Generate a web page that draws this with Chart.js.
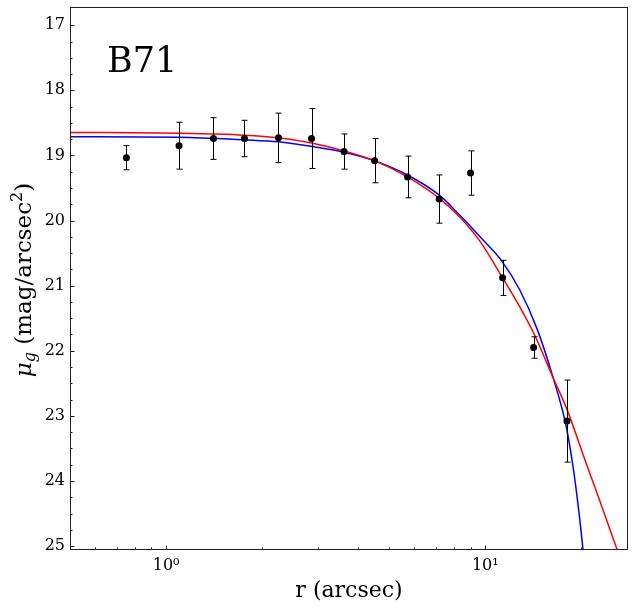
<!DOCTYPE html>
<html>
<head>
<meta charset="utf-8">
<script src="https://cdn.jsdelivr.net/npm/chart.js@4.4.1/dist/chart.umd.min.js"></script>
<style>
  html, body { margin: 0; padding: 0; background: #fff; }
  #wrap { width: 634px; height: 608px; }
</style>
</head>
<body>
<div id="wrap"><canvas id="profileChart" width="634" height="608"></canvas></div>
<script>
// Measured profile: radius (arcsec), surface brightness and its error
var radius = [0.751, 1.098, 1.407, 1.76, 2.25, 2.855, 3.61, 4.50, 5.71, 7.17, 8.99, 11.33, 14.17, 18.03];
var muG = [19.035, 18.85, 18.74, 18.74, 18.73, 18.74, 18.94, 19.08, 19.33, 19.67, 19.27, 20.88, 21.95, 23.08];
var muErr = [0.185, 0.36, 0.32, 0.28, 0.38, 0.46, 0.27, 0.34, 0.32, 0.37, 0.34, 0.27, 0.165, 0.63];

// Red fit
var redR = [0.5, 1.1, 1.76, 2.25, 2.85, 3.61, 4.49, 5.70, 7.18, 8.33, 9.63, 11.30, 12.84, 14.31, 16.33, 18.03, 20.27, 22.87, 25.91];
var redMu = [18.646, 18.66, 18.69, 18.73, 18.81, 18.93, 19.08, 19.33, 19.66, 19.95, 20.32, 20.87, 21.33, 21.77, 22.42, 22.90, 23.60, 24.31, 25.06];

// Blue fit
var blueR = [0.5, 1.1, 1.76, 2.25, 2.85, 3.61, 4.49, 5.70, 7.18, 8.33, 9.63, 11.30, 12.84, 14.52, 16.33, 17.89, 18.86, 19.70, 20.25];
var blueMu = [18.713, 18.72, 18.76, 18.79, 18.86, 18.95, 19.08, 19.30, 19.61, 19.92, 20.25, 20.63, 21.07, 21.66, 22.42, 23.14, 23.80, 24.52, 25.06];

var xTicks = [1, 10];
var xTickLabels = ["10\u2070", "10\u00b9"];
var yTicks = [17, 18, 19, 20, 21, 22, 23, 24, 25];

var serif = "'DejaVu Serif', 'Liberation Serif', serif";

function toXY(xs, ys) {
    return xs.map(function (x, i) { return { x: x, y: ys[i] }; });
}

// error bars, frame, inward ticks and the hand-set texts
var decorPlugin = {
    id: "decor",
    afterDatasetsDraw: function (chart) {
        var ctx = chart.ctx, a = chart.chartArea;
        var xs = chart.scales.x, ys = chart.scales.y;
        ctx.save();

        // error bars
        ctx.strokeStyle = "#000";
        ctx.lineWidth = 1;
        ctx.beginPath();
        for (var i = 0; i < radius.length; i++) {
            var px = Math.round(xs.getPixelForValue(radius[i])) + 0.5;
            var top = ys.getPixelForValue(muG[i] - muErr[i]);
            var bot = ys.getPixelForValue(muG[i] + muErr[i]);
            ctx.moveTo(px, top); ctx.lineTo(px, bot);
            ctx.moveTo(px - 3, top); ctx.lineTo(px + 3, top);
            ctx.moveTo(px - 3, bot); ctx.lineTo(px + 3, bot);
        }
        ctx.stroke();

        // frame
        ctx.strokeStyle = "#222";
        ctx.lineWidth = 1;
        ctx.strokeRect(a.left + 0.5, a.top + 0.5, a.right - a.left - 1, a.bottom - a.top - 1);

        // ticks pointing in
        ctx.beginPath();
        yTicks.forEach(function (v) {
            var y = Math.round(ys.getPixelForValue(v)) + 0.5;
            ctx.moveTo(a.left, y); ctx.lineTo(a.left + 4.5, y);
        });
        for (var m = 17; m < 25.1; m += 0.25) {
            if (m % 1 === 0) continue;
            var ym = Math.round(ys.getPixelForValue(m)) + 0.5;
            ctx.moveTo(a.left, ym); ctx.lineTo(a.left + 2.5, ym);
        }
        xTicks.forEach(function (v) {
            var x = Math.round(xs.getPixelForValue(v)) + 0.5;
            ctx.moveTo(x, a.bottom); ctx.lineTo(x, a.bottom - 4.5);
        });
        [0.1, 1, 10].forEach(function (d) {
            for (var k = 2; k <= 9; k++) {
                var v = d * k;
                if (v < xs.min || v > xs.max) continue;
                var x = Math.round(xs.getPixelForValue(v)) + 0.5;
                ctx.moveTo(x, a.bottom); ctx.lineTo(x, a.bottom - 2.5);
            }
        });
        ctx.stroke();
        ctx.restore();
    },
    afterDraw: function (chart) {
        var ctx = chart.ctx, a = chart.chartArea;
        ctx.save();
        ctx.fillStyle = "#000";
        ctx.textBaseline = "alphabetic";

        // object name
        ctx.font = "35px " + serif;
        ctx.textAlign = "left";
        ctx.fillText("B71", a.left + 37, 72);

        // x title
        ctx.font = "22px " + serif;
        ctx.textAlign = "center";
        ctx.fillText("r (arcsec)", (a.left + a.right) / 2, 597);

        // y title with subscript and superscript
        var parts = [
            { t: "\u03bc", f: "italic 23px " + serif, dy: 0 },
            { t: "g", f: "italic 16px " + serif, dy: 4 },
            { t: " (mag/arcsec", f: "23px " + serif, dy: 0 },
            { t: "2", f: "16px " + serif, dy: -9 },
            { t: ")", f: "23px " + serif, dy: 0 }
        ];
        var total = 0;
        parts.forEach(function (p) { ctx.font = p.f; p.w = ctx.measureText(p.t).width; total += p.w; });
        ctx.translate(31, 280);
        ctx.rotate(-Math.PI / 2);
        ctx.textAlign = "left";
        var cx = -total / 2;
        parts.forEach(function (p) {
            ctx.font = p.f;
            ctx.fillText(p.t, cx, p.dy);
            cx += p.w;
        });
        ctx.restore();
    }
};

var ctx = document.getElementById("profileChart").getContext("2d");
var profileChart = new Chart(ctx, {
    type: "scatter",
    data: {
        datasets: [{
            label: "data",
            data: toXY(radius, muG),
            pointRadius: 3.5,
            pointBackgroundColor: "#000",
            pointBorderWidth: 0,
            showLine: false
        }, {
            label: "red fit",
            data: toXY(redR, redMu),
            showLine: true,
            borderColor: "#ff0000",
            borderWidth: 1.5,
            pointRadius: 0,
            cubicInterpolationMode: "monotone",
            clip: 0
        }, {
            label: "blue fit",
            data: toXY(blueR, blueMu),
            showLine: true,
            borderColor: "#0000ff",
            borderWidth: 1.5,
            pointRadius: 0,
            cubicInterpolationMode: "monotone",
            clip: 0
        }]
    },
    options: {
        responsive: false,
        animation: false,
        layout: { padding: { top: 7, right: 6, left: 0, bottom: 0 } },
        plugins: {
            legend: { display: false },
            tooltip: { enabled: false }
        },
        scales: {
            x: {
                type: "logarithmic",
                min: 0.5,
                max: 28,
                grid: { display: false, drawTicks: false },
                border: { display: false },
                afterBuildTicks: function (scale) {
                    scale.ticks = xTicks.map(function (v) { return { value: v }; });
                },
                afterFit: function (scale) {
                    scale.height = 58;
                    scale.paddingLeft = 0;
                    scale.paddingRight = 0;
                },
                ticks: {
                    autoSkip: false,
                    maxRotation: 0,
                    padding: 6,
                    color: "#000",
                    font: { family: serif, size: 16 },
                    callback: function (value) {
                        var i = xTicks.indexOf(value);
                        return i >= 0 ? xTickLabels[i] : "";
                    }
                }
            },
            y: {
                type: "linear",
                reverse: true,
                min: 16.72,
                max: 25.06,
                grid: { display: false, drawTicks: false },
                border: { display: false },
                afterBuildTicks: function (scale) {
                    scale.ticks = yTicks.map(function (v) { return { value: v }; });
                },
                afterFit: function (scale) {
                    scale.width = 70;
                    scale.paddingTop = 0;
                    scale.paddingBottom = 0;
                },
                ticks: {
                    autoSkip: false,
                    padding: 5,
                    color: "#000",
                    font: { family: serif, size: 16 },
                    callback: function (value) { return String(value); }
                }
            }
        }
    },
    plugins: [decorPlugin]
});
</script>
</body>
</html>
